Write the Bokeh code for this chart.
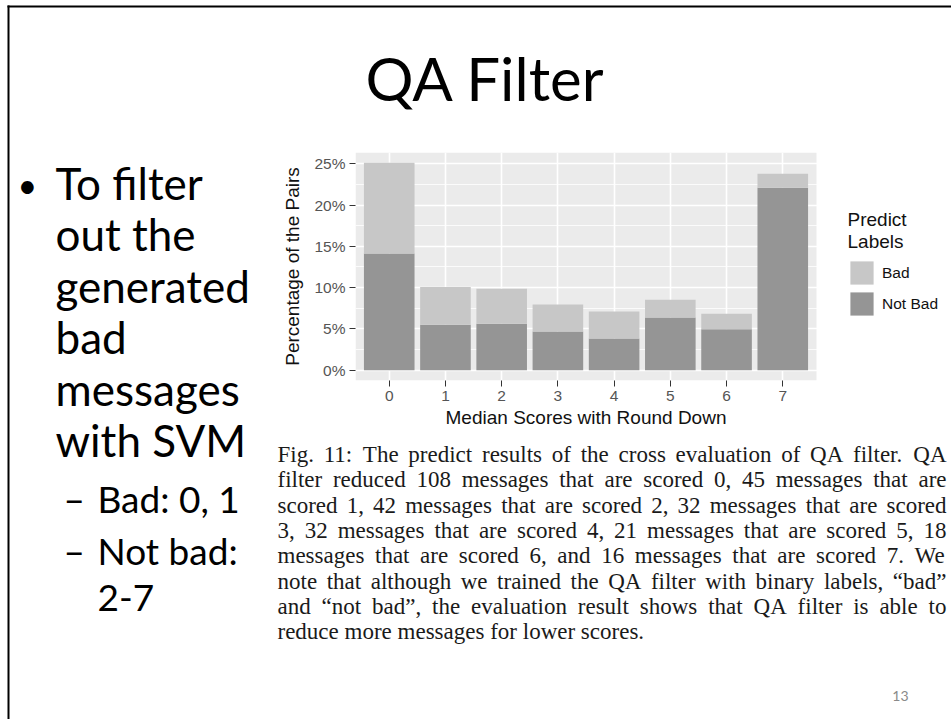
from bokeh.plotting import figure
from bokeh.models import (Range1d, ColumnDataSource, Legend, LegendItem, Label, BoxAnnotation,
                          FixedTicker, SingleIntervalTicker, PrintfTickFormatter)
from bokeh.core.properties import value
from bokeh.embed import file_html
from bokeh.resources import INLINE

# ---------------- data ----------------
scores = [0, 1, 2, 3, 4, 5, 6, 7]
not_bad_pct = [14.15, 5.50, 5.62, 4.69, 3.84, 6.39, 4.97, 22.09]
bad_pct = [10.97, 4.57, 4.25, 3.27, 3.27, 2.14, 1.86, 1.70]
series_labels = ["Bad", "Not Bad"]
legend_title = ["Predict", "Labels"]
x_title = "Median Scores with Round Down"
y_title = "Percentage of the Pairs"

slide_title = "QA Filter"
bullet_lines = ["To filter", "out the", "generated", "bad", "messages", "with SVM"]
sub_bullets = ["Bad: 0, 1", "Not bad:"]
sub_cont = "2-7"
page_no = "13"
caption_lines = [
    "Fig. 11:  The predict results of the cross evaluation of QA filter. QA",
    "filter reduced 108 messages that are scored 0, 45 messages that are",
    "scored 1, 42 messages that are scored 2, 32 messages that are scored",
    "3, 32 messages that are scored 4, 21 messages that are scored 5, 18",
    "messages that are scored 6, and 16 messages that are scored 7. We",
    "note that although we trained the QA filter with binary labels, \u201cbad\u201d",
    "and \u201cnot bad\u201d, the evaluation result shows that QA filter is able to",
    "reduce more messages for lower scores.",
]

# ---------------- layout constants (page pixels) ----------------
W, H = 951, 719
FR_L, FR_R, FR_T, FR_B = 355, 816, 152, 380     # grey panel of the chart
X0, X1 = -0.6, 7.6                             # panel extent in data units
DARK, LIGHT, PANEL = "#959595", "#C7C7C7", "#EBEBEB"
SANS = "Liberation Sans"

# ================= slide background figure (pixel coordinates) =================
s = figure(width=W, height=H, output_backend="svg", toolbar_location=None,
           x_range=Range1d(0, W), y_range=Range1d(H, 0),
           x_axis_location=None, y_axis_location=None, min_border=0)
s.grid.visible = False
s.outline_line_color = None
s.background_fill_color = "white"
s.border_fill_color = "white"

# slide frame (top and left edges)
s.segment(x0=[7, 8], y0=[6, 5], x1=[W, 8], y1=[6, H], line_color="black", line_width=2)


def txt(texts, xs, ys, size, font, color="#000000", align="left"):
    s.text(x=xs, y=ys, text=texts, text_font=value(font), text_font_size=size,
           text_color=color, text_align=align, text_baseline="middle")


txt([slide_title], [485], [77], "60px", "Lato", align="center")
txt(["\u2022"], [17], [184], "34px", "Lato")
txt(bullet_lines, [55] * len(bullet_lines), [182 + 51.5 * i for i in range(len(bullet_lines))],
    "44px", "Lato")
sub_y = [498, 550]
txt(["\u2013"] * len(sub_bullets), [63] * len(sub_bullets), sub_y, "37px", "Lato")
txt(sub_bullets, [97] * len(sub_bullets), sub_y, "37px", "Lato")
txt([sub_cont], [97], [597], "37px", "Lato")
txt([page_no], [908], [695], "14px", "Lato", "#8A8A8A", align="right")
# chart x-axis title, centred under the grey panel
txt([x_title], [(FR_L + FR_R) / 2], [417], "19px", SANS, "#111111", align="center")

# caption, justified word by word (Times metrics)
TIMES = {',': 250, '.': 250, ':': 278, '-': 333, '\u201c': 444, '\u201d': 444}
TIMES.update({c: 500 for c in "0123456789"})
TIMES.update(dict(zip("abcdefghijklmnopqrstuvwxyz",
                      [444, 500, 444, 500, 444, 333, 500, 500, 278, 278, 500, 278, 778,
                       500, 500, 500, 500, 333, 389, 278, 500, 500, 722, 500, 500, 444])))
TIMES.update(dict(zip("ABCDEFGHIJKLMNOPQRSTUVWXYZ",
                      [722, 667, 667, 722, 611, 556, 722, 722, 333, 389, 722, 611, 889,
                       722, 722, 556, 722, 667, 556, 611, 722, 722, 944, 722, 722, 611])))
CAP_FS, CAP_L, CAP_R, CAP_Y0, CAP_DY = 23, 277, 946, 454, 25.3


def tw(w):
    return sum(TIMES.get(c, 500) for c in w) / 1000 * CAP_FS


cw, cx, cy = [], [], []
for i, line in enumerate(caption_lines):
    ws = line.split()
    wd = [tw(w) for w in ws]
    gap = (CAP_R - CAP_L - sum(wd)) / (len(ws) - 1) if i < len(caption_lines) - 1 else 0.25 * CAP_FS
    x = CAP_L
    for w, d in zip(ws, wd):
        cw.append(w)
        cx.append(x)
        cy.append(CAP_Y0 + CAP_DY * i)
        x += d + gap
txt(cw, cx, cy, f"{CAP_FS}px", "Liberation Serif", "#1A1A1A")

# ================= chart figure, overlaid on the slide =================
totals = [a + b for a, b in zip(not_bad_pct, bad_pct)]
ymax = max(totals)
x_end = X1 + (W - FR_R) * (X1 - X0) / (FR_R - FR_L)   # frame runs on to the right edge

p = figure(width=W, height=H, output_backend="svg", toolbar_location=None,
           x_range=Range1d(X0, x_end), y_range=Range1d(-0.05 * ymax, 1.05 * ymax),
           min_border_left=FR_L, min_border_right=0,
           min_border_top=FR_T, min_border_bottom=H - FR_B)
p.margin = (-H, 0, 0, 0)
p.background_fill_color = None
p.border_fill_color = None
p.outline_line_color = None
p.extra_x_ranges = {"px": Range1d(FR_L, W)}
p.extra_y_ranges = {"py": Range1d(FR_B, FR_T)}

p.add_layout(BoxAnnotation(left=X0, right=X1, fill_color=PANEL, fill_alpha=1,
                           line_color=None, level="image"))

src = ColumnDataSource(dict(score=scores, notbad=not_bad_pct, bad=bad_pct))
rs = p.vbar_stack(["notbad", "bad"], x="score", width=0.9, color=[DARK, LIGHT],
                  line_color=None, source=src)

p.xaxis.ticker = FixedTicker(ticks=scores)
p.xaxis.bounds = (X0, X1)
p.yaxis.ticker = SingleIntervalTicker(interval=5, num_minor_ticks=2)
p.yaxis.formatter = PrintfTickFormatter(format="%d%%")
for ax in (p.xaxis[0], p.yaxis[0]):
    ax.axis_line_color = None
    ax.major_tick_line_color = "#333333"
    ax.major_tick_out = 6
    ax.major_tick_in = 0
    ax.minor_tick_line_color = None
    ax.major_label_text_font = SANS
    ax.major_label_text_font_size = "15.5px"
    ax.major_label_text_color = "#555555"
    ax.major_label_standoff = 4
    ax.axis_label_text_font = SANS
    ax.axis_label_text_font_size = "19px"
    ax.axis_label_text_font_style = "normal"
    ax.axis_label_text_color = "#111111"
p.yaxis.axis_label = y_title
p.yaxis.axis_label_standoff = 8

p.xgrid.grid_line_color = "white"
p.xgrid.grid_line_width = 1.6
p.ygrid.grid_line_color = "white"
p.ygrid.grid_line_width = 1.6
p.ygrid.minor_grid_line_color = "white"
p.ygrid.minor_grid_line_width = 0.8

legend = Legend(items=[LegendItem(label=series_labels[0], renderers=[rs[1]]),
                       LegendItem(label=series_labels[1], renderers=[rs[0]])],
                location=(847 - FR_L, FR_B - 318),
                glyph_width=29, glyph_height=29, spacing=2, label_standoff=6,
                padding=0, margin=0, border_line_color=None, background_fill_alpha=0,
                label_text_font=SANS, label_text_font_size="15.5px",
                label_text_color="#111111")
p.add_layout(legend)

for t, yy in zip(legend_title, [219, 241]):
    p.add_layout(Label(x=847, y=yy, x_range_name="px", y_range_name="py", text=t,
                       text_font=SANS, text_font_size="19px", text_color="#111111",
                       text_baseline="middle", text_align="left"))

open("out.html", "w").write(file_html([s, p], INLINE))
